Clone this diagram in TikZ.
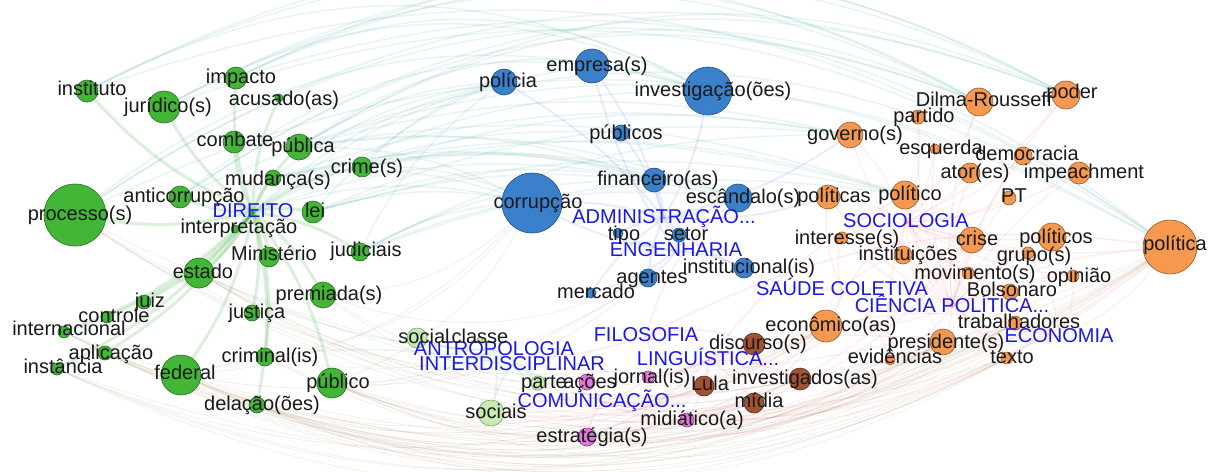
\documentclass[tikz,border=0pt]{standalone}
\usepackage{fontspec}
\setmainfont{Liberation Sans}

\definecolor{gfill}{RGB}{67,181,55}
\definecolor{gdraw}{RGB}{40,110,35}
\definecolor{bfill}{RGB}{58,128,202}
\definecolor{bdraw}{RGB}{35,80,130}
\definecolor{ofill}{RGB}{245,152,80}
\definecolor{odraw}{RGB}{150,90,45}
\definecolor{brfill}{RGB}{160,82,50}
\definecolor{brdraw}{RGB}{90,45,25}
\definecolor{pfill}{RGB}{225,120,220}
\definecolor{pdraw}{RGB}{140,60,140}
\definecolor{lgfill}{RGB}{200,235,180}
\definecolor{lgdraw}{RGB}{120,160,110}
\definecolor{hubblue}{RGB}{25,25,230}

\pgfdeclarelayer{edges}
\pgfdeclarelayer{dots}
\pgfsetlayers{edges,dots,main}

\begin{document}
\begin{tikzpicture}[
  x=0.25pt, y=-0.25pt,
  word/.style={font=\fontsize{5}{5}\selectfont, inner sep=0pt,
               text height=3.5pt, text depth=1pt, text=black!90},
  hub/.style={word, text=hubblue},
  dot/.style={circle, draw, line width=0.15pt, inner sep=0pt},
  gdot/.style={dot, fill=gfill, draw=gdraw},
  bdot/.style={dot, fill=bfill, draw=bdraw},
  odot/.style={dot, fill=ofill, draw=odraw},
  brdot/.style={dot, fill=brfill, draw=brdraw},
  pdot/.style={dot, fill=pfill, draw=pdraw},
  lgdot/.style={dot, fill=lgfill, draw=lgdraw},
  gedge/.style={draw=green!60!black, opacity=.14, line width=.75pt},
  tedge/.style={draw=teal!70, opacity=.12, line width=.4pt},
  bedge/.style={draw=blue!60, opacity=.13, line width=.5pt},
  redge/.style={draw=red!60, opacity=.12, line width=.3pt},
  pedge/.style={draw=magenta!70, opacity=.14, line width=.3pt},
  xedge/.style={draw=brown!60!gray, opacity=.13, line width=.2pt}
]
\useasboundingbox (0,0) rectangle (1208,471);

% discipline labels
\node[hub] (direito) at (253,212) {DIREITO};
\node[hub] (admin) at (664,218) {ADMINISTRAÇÃO...};
\node[hub] (engenharia) at (676,251) {ENGENHARIA};
\node[hub] (sociologia) at (906,222) {SOCIOLOGIA};
\node[hub] (saude) at (842,290) {SAÚDE COLETIVA};
\node[hub] (cienciapol) at (952,307) {CIÊNCIA POLÍTICA...};
\node[hub] (economia) at (1059,337) {ECONOMIA};
\node[hub] (filosofia) at (646,336) {FILOSOFIA};
\node[hub] (linguistica) at (708,360) {LINGUÍSTICA...};
\node[hub] (comunicacao) at (602,402) {COMUNICAÇÃO...};
\node[hub] (antropologia) at (494,350) {ANTROPOLOGIA};
\node[hub] (interdisc) at (512,365) {INTERDISCIPLINAR};

% words: direito
\foreach \n/\x/\y/\r/\lx/\ly/\t in {
  instituto/87/91/11/92/90/instituto, juridico/164/107/16/168/107/jurídico(s),
  impacto/236/78/11/241/78/impacto, acusado/279/98/4/284/100/acusado(as),
  combate/234/142/11/235/141/combate, publica/299/147/13/303/147/pública,
  crime/362/167/10/367/168/crime(s), mudanca/273/178/8/278/180/mudança(s),
  anticorrupcao/180/197/11/184/197/anticorrupção, lei/313/212/11/315/212/lei,
  processo/75/215/31/80/215/processo(s), interpretacao/235/229/4/239/228/interpretação,
  judiciais/360/252/9/366/251/judiciais, ministerio/269/257/10/274/255/Ministério,
  estado/199/273/15/203/273/estado, premiada/323/295/13/329/295/premiada(s),
  juiz/144/302/7/150/302/juiz, controle/107/317/6/114/317/controle,
  justica/252/313/8/257/313/justiça, internacional/64/332/6/69/330/internacional,
  aplicacao/105/353/7/111/354/aplicação, instancia/57/369/6/63/368/instância,
  federal/181/375/20/185/374/federal, criminal/265/357/9/270/357/criminal(is),
  publico/332/383/15/338/383/público, delacao/257/405/8/262/405/delação(ões)}{
  \begin{pgfonlayer}{dots}
    \node[gdot, minimum size=0.5pt*\r] (\n) at (\x,\y) {};
  \end{pgfonlayer}
  \node[word] (\n-t) at (\lx,\ly) {\t};
}

% words: administracao
\foreach \n/\x/\y/\r/\lx/\ly/\t in {
  policia/504/82/13/508/82/polícia, empresa/592/66/17/597/66/empresa(s),
  investigacao/708/91/24/713/91/investigação(ões), publicos/621/133/8/626/134/públicos,
  financeiro/654/180/12/658/180/financeiro(as), corrupcao/532/203/30/538/203/corrupção,
  escandalo/738/198/14/743/198/escândalo(s), tipo/618/233/5/624/235/tipo,
  setor/679/235/7/686/235/setor, institucional/744/268/10/749/268/institucional(is),
  agentes/648/278/9/652/278/agentes, mercado/591/293/5/596/293/mercado}{
  \begin{pgfonlayer}{dots}
    \node[bdot, minimum size=0.5pt*\r] (\n) at (\x,\y) {};
  \end{pgfonlayer}
  \node[word] (\n-t) at (\lx,\ly) {\t};
}

% words: antropologia
\foreach \n/\x/\y/\r/\lx/\ly/\t in {
  social/417/338/10/424/338/social, classe/480/340/3/480/338/classe,
  parte/538/383/7/544/383/parte, sociais/491/413/13/496/413/sociais}{
  \begin{pgfonlayer}{dots}
    \node[lgdot, minimum size=0.5pt*\r] (\n) at (\x,\y) {};
  \end{pgfonlayer}
  \node[word] (\n-t) at (\lx,\ly) {\t};
}

% words: comunicacao
\foreach \n/\x/\y/\r/\lx/\ly/\t in {
  acoes/587/382/8/590/383/ações, jornal/648/377/6/652/378/jornal(is),
  midiatico/687/420/7/692/420/midiático(a), estrategia/587/437/9/592/437/estratégia(s)}{
  \begin{pgfonlayer}{dots}
    \node[pdot, minimum size=0.5pt*\r] (\n) at (\x,\y) {};
  \end{pgfonlayer}
  \node[word] (\n-t) at (\lx,\ly) {\t};
}

% words: linguistica
\foreach \n/\x/\y/\r/\lx/\ly/\t in {
  lula/704/386/10/710/385/Lula, discurso/754/344/11/758/344/discurso(s),
  investigados/800/379/11/805/379/investigados(as), midia/754/403/10/759/402/mídia}{
  \begin{pgfonlayer}{dots}
    \node[brdot, minimum size=0.5pt*\r] (\n) at (\x,\y) {};
  \end{pgfonlayer}
  \node[word] (\n-t) at (\lx,\ly) {\t};
}

% words: sociologia / ciencia politica
\foreach \n/\x/\y/\r/\lx/\ly/\t in {
  dilma/979/102/14/984/101/Dilma-Rousseff, poder/1066/95/14/1072/93/poder,
  partido/918/117/7/924/117/partido, governo/850/135/13/855/135/governo(s),
  esquerda/935/149/5/941/149/esquerda, democracia/1023/156/9/1027/155/democracia,
  ator/970/173/10/975/173/ator(es), impeachment/1079/173/11/1084/173/impeachment,
  politicas/828/197/12/834/197/políticas, politico/905/195/14/910/195/político,
  pt/1009/198/7/1014/197/PT, interesse/842/238/6/847/239/interesse(s),
  crise/972/240/13/977/240/crise, politicos/1052/237/14/1056/238/políticos,
  politica/1170/247/27/1175/245/política, instituicoes/903/255/9/908/255/instituições,
  grupo/1028/253/6/1034/256/grupo(s), movimento/968/273/6/975/274/movimento(s),
  opiniao/1073/276/6/1079/277/opinião, bolsonaro/1010/292/8/1012/291/Bolsonaro,
  trabalhadores/1015/323/7/1019/323/trabalhadores, economico/826/326/16/831/326/econômico(as),
  presidente/943/342/13/946/343/presidente(s), evidencias/890/360/5/895/358/evidências,
  texto/1007/358/6/1012/358/texto}{
  \begin{pgfonlayer}{dots}
    \node[odot, minimum size=0.5pt*\r] (\n) at (\x,\y) {};
  \end{pgfonlayer}
  \node[word] (\n-t) at (\lx,\ly) {\t};
}

\begin{pgfonlayer}{edges}
\fill[white] (0,0) rectangle (1208,471);
% inside the clusters
\foreach \w in {instituto,juridico,impacto,acusado,combate,publica,crime,mudanca,
  anticorrupcao,lei,processo,interpretacao,judiciais,ministerio,estado,premiada,juiz,
  controle,justica,internacional,aplicacao,instancia,federal,criminal,publico,delacao}
  \draw[gedge] (direito.center) to[bend left=12] (\w.center);
\foreach \w in {policia,empresa,investigacao,publicos,financeiro,corrupcao,escandalo,
  tipo,setor,institucional,agentes,mercado,politicas,governo}
  \draw[bedge] (admin.center) to[bend right=10] (\w.center);
\foreach \w in {corrupcao,empresa,setor,tipo,agentes,mercado,institucional}
  \draw[bedge] (engenharia.center) to[bend left=10] (\w.center);
\foreach \w in {dilma,poder,partido,governo,esquerda,democracia,ator,impeachment,
  politicas,politico,pt,interesse,crise,politicos,politica,instituicoes,grupo,movimento,
  opiniao,bolsonaro,trabalhadores,economico,presidente,evidencias,texto}{
  \draw[redge] (cienciapol.center) to[bend left=12] (\w.center);
  \draw[redge] (sociologia.center) to[bend right=12] (\w.center);
}
\foreach \w in {economico,interesse,instituicoes,politicas,institucional,discurso,evidencias}
  \draw[redge] (saude.center) to[bend left=15] (\w.center);
\foreach \w in {economico,trabalhadores,politica,grupo,opiniao,texto,presidente}
  \draw[redge] (economia.center) to[bend right=15] (\w.center);
\foreach \w in {lula,discurso,investigados,midia,jornal,midiatico,acoes,estrategia,presidente,politico}
  \draw[pedge] (linguistica.center) to[bend left=12] (\w.center);
\foreach \w in {acoes,jornal,midiatico,estrategia,midia,parte,sociais,lula}
  \draw[pedge] (comunicacao.center) to[bend right=12] (\w.center);
\foreach \w in {discurso,politica,social,jornal,escandalo}
  \draw[pedge] (filosofia.center) to[bend left=18] (\w.center);
\foreach \w in {social,classe,parte,sociais,estado,publico}
  \draw[tedge] (antropologia.center) to[bend left=12] (\w.center);
\foreach \w in {sociais,parte,acoes,federal}
  \draw[tedge] (interdisc.center) to[bend right=12] (\w.center);
% between the clusters
\foreach \w in {corrupcao,policia,investigacao,empresa,financeiro,publicos}
  \draw[tedge] (direito.center) to[bend left=15] (\w.center);
\foreach \a in {instituto,juridico,processo,impacto,anticorrupcao,publica}
  \foreach \b in {politica,poder,investigacao,dilma}
    \draw[tedge] (\a.center) to[bend left=28] (\b.center);
\foreach \a in {crime,publica,lei,judiciais,mudanca}
  \foreach \b in {corrupcao,policia,financeiro,escandalo,governo,politico}
    \draw[tedge] (\a.center) to[bend left=14] (\b.center);
\foreach \a in {processo,federal,estado,instancia,internacional,aplicacao,delacao,publico}
  \foreach \b in {politica,presidente,economico,texto,trabalhadores}
    \draw[xedge] (\a.center) to[bend right=26] (\b.center);
\foreach \a in {federal,publico,criminal,premiada}
  \foreach \b in {corrupcao,investigados,midia,agentes}
    \draw[xedge] (\a.center) to[bend right=22] (\b.center);
\foreach \a in {sociais,estrategia,midiatico}
  \foreach \b in {presidente,economico,politica,crise}
    \draw[redge] (\a.center) to[bend right=20] (\b.center);
\end{pgfonlayer}
\end{tikzpicture}
\end{document}
